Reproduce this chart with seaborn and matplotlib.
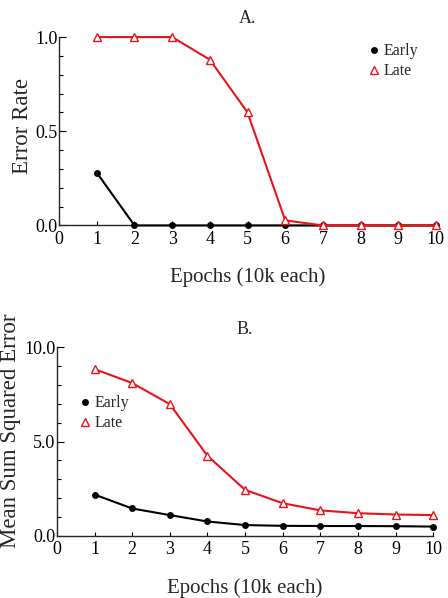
import numpy as np
import pandas as pd
import matplotlib
matplotlib.use("Agg")
import matplotlib.pyplot as plt
from matplotlib.ticker import MultipleLocator
import seaborn as sns

# ── Datos ─────────────────────────────────────────────
epochs = [1, 2, 3, 4, 5, 6, 7, 8, 9, 10]
err_early = [0.28, 0, 0, 0, 0, 0, 0, 0, 0, 0]
err_late = [1.0, 1.0, 1.0, 0.88, 0.60, 0.027, 0, 0, 0, 0]
sse_early = [2.19, 1.45, 1.10, 0.76, 0.57, 0.53, 0.52, 0.52, 0.51, 0.49]
sse_late = [8.85, 8.11, 6.99, 4.25, 2.44, 1.73, 1.35, 1.20, 1.13, 1.10]

sns.set_style("ticks")
plt.rcParams["font.family"] = ["Liberation Serif", "DejaVu Serif"]

fig = plt.figure(figsize=(4.48, 5.98), dpi=100)
axA = fig.add_axes([0.132, 0.623, 0.841, 0.315])
axB = fig.add_axes([0.127, 0.104, 0.840, 0.315])


def draw(ax, early, late, ymax, major, minor, ylabel, ylsize, ylpos, title, legend_pos):
    sns.lineplot(x=epochs, y=early, ax=ax, color="black", lw=1.5,
                 marker="o", markersize=5, markeredgewidth=0,
                 label="Early", clip_on=False, zorder=3)
    sns.lineplot(x=epochs, y=late, ax=ax, color="#e8141a", lw=1.5,
                 marker="^", markersize=6, markerfacecolor="white",
                 markeredgecolor="#e8141a", markeredgewidth=1.0,
                 label="Late", clip_on=False, zorder=4)
    ax.set_xlim(0, 10)
    ax.set_ylim(0, ymax)
    ax.xaxis.set_major_locator(MultipleLocator(1))
    ax.yaxis.set_major_locator(MultipleLocator(major))
    ax.yaxis.set_minor_locator(MultipleLocator(minor))
    ax.yaxis.set_major_formatter("{x:.1f}")
    ax.tick_params(axis="both", which="both", direction="in",
                   labelsize=13, width=0.8, colors="black")
    ax.tick_params(axis="y", which="major", length=5, pad=1)
    ax.tick_params(axis="y", which="minor", length=3)
    ax.tick_params(axis="x", which="major", length=3, pad=4)
    for s in ["top", "right"]:
        ax.spines[s].set_visible(False)
    for s in ["left", "bottom"]:
        ax.spines[s].set_linewidth(1.0)
    ax.set_xlabel("Epochs (10k each)", fontsize=15, labelpad=14)
    ax.set_ylabel(ylabel, fontsize=ylsize, labelpad=2, y=ylpos)
    ax.set_title(title, fontsize=13, pad=10)
    leg = ax.legend(loc="upper left", bbox_to_anchor=legend_pos, frameon=False,
                    fontsize=11.5, handlelength=0.6, handletextpad=0.3,
                    labelspacing=0.25, borderaxespad=0)
    for h in leg.legend_handles:
        h.set_linestyle("none")


draw(axA, err_early, err_late, 1.0, 0.5, 0.1, "Error Rate", 16.5, 0.53, "A.",
     (0.805, 1.0))
draw(axB, sse_early, sse_late, 10.0, 5.0, 1.0,
     "Mean Sum Squared Error", 16.5, 0.56, "B.", (0.045, 0.78))

fig.savefig("out.png", dpi=100)
